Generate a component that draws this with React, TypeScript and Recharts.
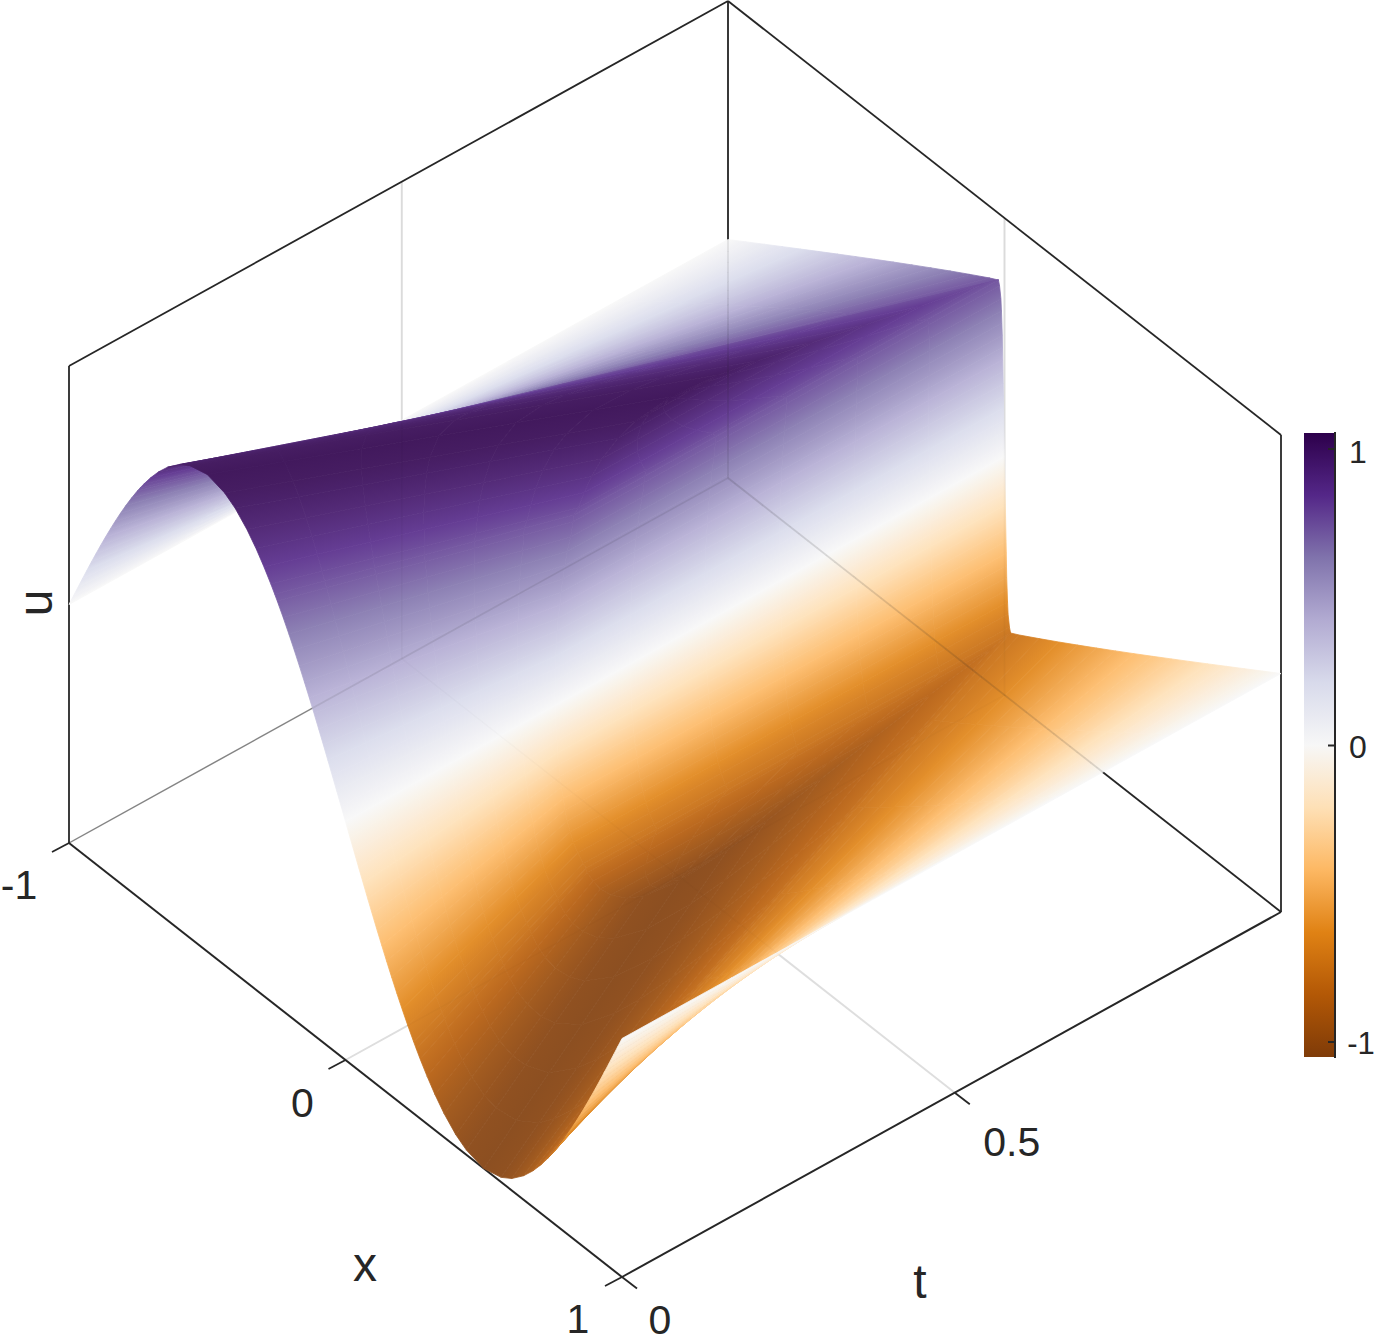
import {
    ComposedChart,
    Line,
    ReferenceArea,
    XAxis,
    YAxis,
} from "recharts";

const WIDTH = 1375;
const HEIGHT = 1342;

const uAbove = [0, 0.05, 0.1, 0.15, 0.2, 0.25, 0.3, 0.35, 0.4, 0.45, 0.5, 0.55, 0.6, 0.65, 0.7, 0.72, 0.75, 0.8, 0.85, 0.9, 0.95, 0.98, 1];
const uBelow = [0, -0.05, -0.1, -0.15, -0.2, -0.25, -0.3, -0.35, -0.4, -0.45, -0.5, -0.55, -0.6, -0.65, -0.7, -0.72, -0.75, -0.8, -0.85, -0.9, -0.95, -0.98, -1];

// x where each level sits at t = 0, and where it ends
const leftOuterStartX = [-1, -0.9841, -0.9681, -0.9521, -0.9359, -0.9196, -0.903, -0.8862, -0.869, -0.8514, -0.8333, -0.8146, -0.7952, -0.7748, -0.7532, -0.7441, -0.7301, -0.7048, -0.6766, -0.6436, -0.6011, -0.5628, -0.5];
const leftOuterEndX = [-1, -0.9341, -0.8681, -0.8021, -0.7359, -0.6696, -0.603, -0.5362, -0.469, -0.4014, -0.3333, -0.2646, -0.1952, -0.1248, -0.0532, -0.022, -0.016, -0.016, -0.016, -0.016, -0.016, -0.016, -0.016];
const leftInnerStartX = [0, -0.0159, -0.0319, -0.0479, -0.0641, -0.0804, -0.097, -0.1138, -0.131, -0.1486, -0.1667, -0.1854, -0.2048, -0.2252, -0.2468, -0.2559, -0.2699, -0.2952, -0.3234, -0.3564, -0.3989, -0.4372, -0.5];
const wallLeftX = [0, -0.0008, -0.0016, -0.0024, -0.0032, -0.004, -0.0048, -0.0056, -0.0065, -0.0072, -0.008, -0.0095, -0.011, -0.013, -0.018, -0.022, -0.016, -0.016, -0.016, -0.016, -0.016, -0.016, -0.016];
const wallRightX = [0, 0.0008, 0.0016, 0.0024, 0.0032, 0.004, 0.0048, 0.0056, 0.0065, 0.0072, 0.008, 0.0095, 0.011, 0.013, 0.018, 0.022, 0.016, 0.016, 0.016, 0.016, 0.016, 0.016, 0.016];
const rightInnerStartX = [0, 0.0159, 0.0319, 0.0479, 0.0641, 0.0804, 0.097, 0.1138, 0.131, 0.1486, 0.1667, 0.1854, 0.2048, 0.2252, 0.2468, 0.2559, 0.2699, 0.2952, 0.3234, 0.3564, 0.3989, 0.4372, 0.5];
const rightOuterStartX = [1, 0.9841, 0.9681, 0.9521, 0.9359, 0.9196, 0.903, 0.8862, 0.869, 0.8514, 0.8333, 0.8146, 0.7952, 0.7748, 0.7532, 0.7441, 0.7301, 0.7048, 0.6766, 0.6436, 0.6011, 0.5628, 0.5];
const rightOuterEndX = [1, 0.9341, 0.8681, 0.8021, 0.7359, 0.6696, 0.603, 0.5362, 0.469, 0.4014, 0.3333, 0.2646, 0.1952, 0.1248, 0.0532, 0.022, 0.016, 0.016, 0.016, 0.016, 0.016, 0.016, 0.016];

// t where each level reaches the steep wall at x = 0, and where it leaves it
const innerHitT = [0.318, 0.318, 0.319, 0.32, 0.32, 0.322, 0.323, 0.325, 0.328, 0.33, 0.333, 0.337, 0.341, 0.347, 0.353, 0.356, 0.36, 0.369, 0.38, 0.396, 0.42, 0.446, 0.5];
const outerEndT = [1, 1, 1, 1, 1, 1, 1, 1, 1, 1, 1, 1, 1, 1, 1, 1, 0.973, 0.881, 0.796, 0.715, 0.633, 0.574, 0.5];

const xTicks = [-1, 0, 1];
const xTickLabels = ["-1", "0", "1"];
const tTicks = [0, 0.505];
const tTickLabels = ["0", "0.5"];
const colorbarTicks = [1, 0, -1];
const colorbarTickLabels = ["1", "0", "-1"];

const colormapValues = [-1, -0.8, -0.6, -0.4, -0.2, 0, 0.2, 0.4, 0.6, 0.8, 1];
const colormapColors = ["#7f3b08", "#b35806", "#e08214", "#fdb863", "#fee0b6", "#f7f7f7", "#d8daeb", "#b2abd2", "#8073ac", "#542788", "#2d004b"];

const FACE_ALPHA = 0.9;
const INK = "#262626";
const GRID = "#e2e2e2";
const FONT = "'Liberation Sans', Arial, sans-serif";

function project(x: number, t: number, u: number) {
    return {
        px: 69 + 276.5 * (x + 1) + 659 * t,
        py: 843 + 217 * (x + 1) - 365 * t - 238.5 * (u + 1),
    };
}

function hexToRgb(hex: string) {
    return [1, 3, 5].map((i) => parseInt(hex.slice(i, i + 2), 16));
}

function surfaceColor(u: number) {
    const v = Math.max(-1, Math.min(1, u));
    let i = 0;
    while (i < colormapValues.length - 2 && v > colormapValues[i + 1]) i++;
    const f = (v - colormapValues[i]) / (colormapValues[i + 1] - colormapValues[i]);
    const a = hexToRgb(colormapColors[i]);
    const b = hexToRgb(colormapColors[i + 1]);
    const rgb = a.map((c, k) => (c + (b[k] - c) * f) * FACE_ALPHA + 255 * (1 - FACE_ALPHA));
    return `rgb(${rgb.map((c) => Math.round(c)).join(",")})`;
}

type Corner = { px: number; py: number };
type Panel = { id: string; from: number; to: number; corners: Corner[] };

function buildSheet(
    name: string,
    levels: number[],
    startX: number[],
    startT: number[] | null,
    endX: number[],
    endT: number[],
    reverse: boolean,
) {
    const panels: Panel[] = [];
    for (let n = 0; n < levels.length - 1; n++) {
        const i = reverse ? levels.length - 1 - n : n;
        const j = reverse ? i - 1 : i + 1;
        const t0i = startT ? startT[i] : 0;
        const t0j = startT ? startT[j] : 0;
        panels.push({
            id: `${name}-${n}`,
            from: levels[i],
            to: levels[j],
            corners: [
                project(startX[i], t0i, levels[i]),
                project(endX[i], endT[i], levels[i]),
                project(endX[j], endT[j], levels[j]),
                project(startX[j], t0j, levels[j]),
            ],
        });
    }
    return panels;
}

// painted far to near: x runs towards the viewer
const panels: Panel[] = [
    ...buildSheet("leftOuter", uAbove, leftOuterStartX, null, leftOuterEndX, outerEndT, false),
    ...buildSheet("leftInner", uAbove, leftInnerStartX, null, wallLeftX, innerHitT, true),
    ...buildSheet("wallLeft", uAbove, wallLeftX, innerHitT, wallLeftX, outerEndT, true),
    ...buildSheet("wallRight", uBelow, wallRightX, innerHitT, wallRightX, outerEndT, false),
    ...buildSheet("rightInner", uBelow, rightInnerStartX, null, wallRightX, innerHitT, false),
    ...buildSheet("rightOuter", uBelow, rightOuterStartX, null, rightOuterEndX, outerEndT, true),
];

const SUB_STEPS = 6;

function lerp(a: number[], b: number[], s: number) {
    return [a[0] + (b[0] - a[0]) * s, a[1] + (b[1] - a[1]) * s];
}

function renderPanel(panel: Panel) {
    const seen: number[][] = [];
    return function PanelDot(props: any) {
        seen[props.index] = [props.cx, props.cy];
        if (props.index !== 3) return <g key={props.index} />;
        const [a0, a1, b1, b0] = seen;
        const colorA = surfaceColor(panel.from);
        const colorB = surfaceColor(panel.to);
        const parts = [];
        for (let k = 0; k < SUB_STEPS; k++) {
            const p0 = lerp(a0, a1, k / SUB_STEPS);
            const p1 = lerp(a0, a1, (k + 1) / SUB_STEPS);
            const q0 = lerp(b0, b1, k / SUB_STEPS);
            const q1 = lerp(b0, b1, (k + 1) / SUB_STEPS);
            const ex = p1[0] - p0[0] + q1[0] - q0[0];
            const ey = p1[1] - p0[1] + q1[1] - q0[1];
            const len = Math.hypot(ex, ey) || 1;
            const nx = -ey / len;
            const ny = ex / len;
            const mx = (p0[0] + p1[0]) / 2;
            const my = (p0[1] + p1[1]) / 2;
            const d = ((q0[0] + q1[0]) / 2 - mx) * nx + ((q0[1] + q1[1]) / 2 - my) * ny;
            const id = `${panel.id}-${k}`;
            parts.push(
                <g key={id}>
                    <defs>
                        <linearGradient
                            id={id}
                            gradientUnits="userSpaceOnUse"
                            x1={mx}
                            y1={my}
                            x2={mx + nx * d}
                            y2={my + ny * d}
                        >
                            <stop offset="0" stopColor={colorA} />
                            <stop offset="1" stopColor={colorB} />
                        </linearGradient>
                    </defs>
                    <polygon
                        points={[p0, p1, q1, q0].map((c) => c.join(",")).join(" ")}
                        fill={Math.abs(d) < 0.05 ? colorA : `url(#${id})`}
                        stroke={Math.abs(d) < 0.05 ? colorA : `url(#${id})`}
                        strokeWidth={0.8}
                        strokeLinejoin="round"
                    />
                </g>,
            );
        }
        return <g key={panel.id}>{parts}</g>;
    };
}

type Segment = { id: string; points: Corner[]; stroke: string; width: number; opacity?: number };

function edge(id: string, a: number[], b: number[], stroke = INK, width = 1.8, opacity = 1): Segment {
    return {
        id,
        points: [project(a[0], a[1], a[2]), project(b[0], b[1], b[2])],
        stroke,
        width,
        opacity,
    };
}

const gridT = tTicks[1];

const gridLines = [
    edge("gridX0Floor", [0, 0, -1], [0, 1, -1], GRID, 2),
    edge("gridX0Wall", [0, 1, -1], [0, 1, 1], GRID, 2),
    edge("gridTFloor", [-1, gridT, -1], [1, gridT, -1], GRID, 2),
    edge("gridTWall", [-1, gridT, -1], [-1, gridT, 1], GRID, 2),
];

const boxLines = [
    edge("floorBackLeft", [-1, 0, -1], [-1, 1, -1], "#8f8f8f", 1.4),
    edge("left", [-1, 0, -1], [-1, 0, 1]),
    edge("topLeft", [-1, 0, 1], [-1, 1, 1]),
    edge("back", [-1, 1, -1], [-1, 1, 1]),
    edge("topRight", [-1, 1, 1], [1, 1, 1]),
    edge("right", [1, 1, -1], [1, 1, 1]),
    edge("floorBackRight", [-1, 1, -1], [1, 1, -1]),
    edge("floorFrontLeft", [-1, 0, -1], [1, 0, -1], INK, 2),
    edge("floorFrontRight", [1, 0, -1], [1, 1, -1], INK, 2),
];

// the surface is slightly see-through, so what lies behind it shows faintly
const showThroughLines = [
    edge("floorBackLeftThrough", [-1, 0, -1], [-1, 1, -1], INK, 1.6, 0.1),
    edge("backThrough", [-1, 1, -1], [-1, 1, 1], INK, 1.8, 0.1),
    edge("floorBackRightThrough", [-1, 1, -1], [1, 1, -1], INK, 1.8, 0.15),
    edge("gridX0Through", [0, 1, -1], [0, 1, 1], INK, 1.5, 0.03),
    edge("gridTThrough", [-1, gridT, -1], [-1, gridT, 1], INK, 1.5, 0.03),
    edge("gridX0FloorThrough", [0, 0, -1], [0, 1, -1], INK, 1.5, 0.02),
    edge("gridTFloorThrough", [-1, gridT, -1], [1, gridT, -1], INK, 1.5, 0.02),
];

const X_TICK_VECTOR = { px: -17, py: 9 };
const T_TICK_VECTOR = { px: 15, py: 11.5 };

function tickSegment(id: string, base: Corner, vector: Corner): Segment {
    return {
        id,
        points: [base, { px: base.px + vector.px, py: base.py + vector.py }],
        stroke: INK,
        width: 1.8,
    };
}

const tickLines = [
    ...xTicks.map((x) => tickSegment(`xTick${x}`, project(x, 0, -1), X_TICK_VECTOR)),
    ...tTicks.map((t) => tickSegment(`tTick${t}`, project(1, t, -1), T_TICK_VECTOR)),
];

// colorbar layout
const BAR = { left: 1304, right: 1335, top: 433, bottom: 1057, zero: 745.5, unit: 296.5 };

function colorbarY(value: number) {
    return BAR.zero - value * BAR.unit;
}

const colorbarLines: Segment[] = [
    {
        id: "barEdge",
        points: [{ px: BAR.right, py: BAR.top - 1 }, { px: BAR.right, py: BAR.bottom + 1 }],
        stroke: INK,
        width: 2,
    },
    ...colorbarTicks.map((value) => ({
        id: `barTick${value}`,
        points: [{ px: BAR.right - 7, py: colorbarY(value) }, { px: BAR.right, py: colorbarY(value) }],
        stroke: INK,
        width: 2,
    })),
];

type TextMark = { px: number; py: number; text: string; size: number; rotate?: number };

const TICK_SIZE = 41;

const textMarks: TextMark[] = [
    { ...project(xTicks[0], 0, -1), text: xTickLabels[0], size: TICK_SIZE },
    { ...project(xTicks[1], 0, -1), text: xTickLabels[1], size: TICK_SIZE },
    { ...project(xTicks[2], 0, -1), text: xTickLabels[2], size: TICK_SIZE },
    { ...project(1, tTicks[0], -1), text: tTickLabels[0], size: TICK_SIZE },
    { ...project(1, tTicks[1], -1), text: tTickLabels[1], size: TICK_SIZE },
    { px: 1358, py: colorbarY(colorbarTicks[0]), text: colorbarTickLabels[0], size: 32 },
    { px: 1358, py: colorbarY(colorbarTicks[1]), text: colorbarTickLabels[1], size: 32 },
    { px: 1361, py: colorbarY(colorbarTicks[2]), text: colorbarTickLabels[2], size: 31 },
    { px: 365, py: 1264, text: "x", size: 48 },
    { px: 920, py: 1281, text: "t", size: 48 },
    { px: 35, py: 603, text: "u", size: 48, rotate: -90 },
];

const labelShifts = [
    [-50, 42], [-43, 43], [-44, 42], [38, 43], [57, 49],
    [0, 3], [0, 1], [0, 1], [0, 0], [0, 0], [0, 0],
];

const placedTextMarks = textMarks.map((mark, i) => ({
    ...mark,
    px: mark.px + labelShifts[i][0],
    py: mark.py + labelShifts[i][1],
}));

function renderTextMark(props: any) {
    const mark = props.payload as TextMark;
    return (
        <text
            key={mark.text + props.index}
            x={props.cx}
            y={props.cy}
            fontSize={mark.size}
            fontFamily={FONT}
            fill={INK}
            textAnchor="middle"
            dominantBaseline="central"
            transform={mark.rotate ? `rotate(${mark.rotate} ${props.cx} ${props.cy})` : undefined}
        >
            {mark.text}
        </text>
    );
}

function segmentSeries(segments: Segment[]) {
    return segments.map((segment) => (
        <Line
            key={segment.id}
            data={segment.points}
            dataKey="py"
            type="linear"
            stroke={segment.stroke}
            strokeWidth={segment.width}
            strokeOpacity={segment.opacity ?? 1}
            dot={false}
            activeDot={false}
            isAnimationActive={false}
        />
    ));
}

// dots sit above every line curve, so these have to be dots to land on top of the surface
function renderThroughLine(segment: Segment) {
    const seen: number[][] = [];
    return function ThroughDot(props: any) {
        seen[props.index] = [props.cx, props.cy];
        if (props.index !== 1) return <g key={props.index} />;
        return (
            <line
                key={segment.id}
                x1={seen[0][0]}
                y1={seen[0][1]}
                x2={seen[1][0]}
                y2={seen[1][1]}
                stroke={segment.stroke}
                strokeWidth={segment.width}
                strokeOpacity={segment.opacity}
            />
        );
    };
}

export default function App() {
    return (
        <div style={{ position: "absolute", left: 0, top: 0, width: WIDTH, height: HEIGHT, background: "#fff" }}>
            <ComposedChart
                width={WIDTH}
                height={HEIGHT}
                margin={{ top: 0, right: 0, bottom: 0, left: 0 }}
            >
                <defs>
                    <linearGradient id="colorbarFill" x1="0" y1="1" x2="0" y2="0">
                        {colormapColors.map((color, i) => (
                            <stop
                                key={color}
                                offset={(colormapValues[i] + 1) / 2}
                                stopColor={color}
                            />
                        ))}
                    </linearGradient>
                </defs>

                <XAxis hide type="number" dataKey="px" domain={[0, WIDTH]} allowDataOverflow />
                <YAxis hide type="number" domain={[0, HEIGHT]} reversed allowDataOverflow />

                {segmentSeries(gridLines)}
                {segmentSeries(boxLines)}

                {panels.map((panel) => (
                    <Line
                        key={panel.id}
                        data={panel.corners}
                        dataKey="py"
                        type="linear"
                        stroke="none"
                        dot={renderPanel(panel)}
                        activeDot={false}
                        isAnimationActive={false}
                    />
                ))}

                {showThroughLines.map((segment) => (
                    <Line
                        key={segment.id}
                        data={segment.points}
                        dataKey="py"
                        type="linear"
                        stroke="none"
                        dot={renderThroughLine(segment)}
                        activeDot={false}
                        isAnimationActive={false}
                    />
                ))}

                {segmentSeries(tickLines)}

                <ReferenceArea
                    x1={BAR.left}
                    x2={BAR.right}
                    y1={BAR.top}
                    y2={BAR.bottom}
                    fill="url(#colorbarFill)"
                    fillOpacity={1}
                    stroke="none"
                />
                {segmentSeries(colorbarLines)}

                <Line
                    data={placedTextMarks}
                    dataKey="py"
                    stroke="none"
                    dot={renderTextMark}
                    activeDot={false}
                    isAnimationActive={false}
                />
            </ComposedChart>
        </div>
    );
}
